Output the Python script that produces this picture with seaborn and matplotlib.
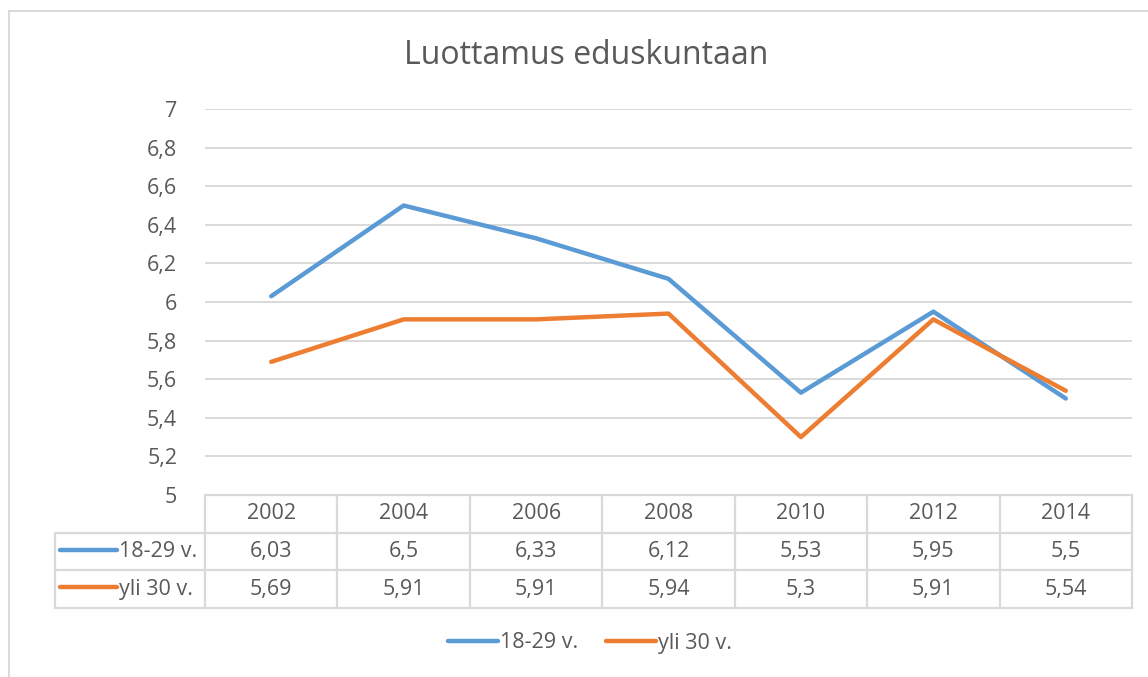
import matplotlib
matplotlib.use("Agg")
import matplotlib.pyplot as plt
import seaborn as sns
import pandas as pd
from matplotlib.lines import Line2D

years = ["2002", "2004", "2006", "2008", "2010", "2012", "2014"]
series_names = ["18-29 v.", "yli 30 v."]
young = [6.03, 6.5, 6.33, 6.12, 5.53, 5.95, 5.5]
older = [5.69, 5.91, 5.91, 5.94, 5.3, 5.91, 5.54]
yticks = [5, 5.2, 5.4, 5.6, 5.8, 6, 6.2, 6.4, 6.6, 6.8, 7]
title = "Luottamus eduskuntaan"

colors = ["#5B9BD5", "#ED7D31"]
grid_c = "#D9D9D9"
text_c = "#595959"
fs = 15.5

sns.set_theme(style="white")
plt.rcParams["font.family"] = ["Open Sans", "DejaVu Sans"]

W, H = 1148, 677
fig = plt.figure(figsize=(W / 100, H / 100), dpi=100)

def fx(px):
    return px / W

def fy(py):
    return 1 - py / H

# plot area
left, right, top, bottom = 205, 1132, 109, 495
ax = fig.add_axes([fx(left), fy(bottom), fx(right - left), fy(top) - fy(bottom)])

df = pd.DataFrame({
    "x": list(range(len(years))) * 2,
    "value": young + older,
    "series": [series_names[0]] * len(years) + [series_names[1]] * len(years),
})
sns.lineplot(data=df, x="x", y="value", hue="series", palette=colors,
             linewidth=3.2, ax=ax, legend=False, solid_capstyle="round")

ax.set_xlim(-0.5, len(years) - 0.5)
ax.set_ylim(5, 7)
ax.set_yticks(yticks)
ax.set_yticklabels([("%g" % v).replace(".", ",") for v in yticks], color=text_c, fontsize=fs)
ax.set_xticks([])
ax.set_xlabel("")
ax.set_ylabel("")
ax.tick_params(axis="y", length=0, pad=20)
for s in ax.spines.values():
    s.set_visible(False)
ax.yaxis.grid(True, color=grid_c, linewidth=1.4)
ax.set_axisbelow(True)

# data table
tleft = 55
tbottom = 608
tax = fig.add_axes([fx(tleft), fy(tbottom), fx(right - tleft), fy(bottom) - fy(tbottom)])
colw = (right - left) / len(years)
x0 = -0.5 - (left - tleft) / colw
tax.set_xlim(x0, len(years) - 0.5)
tax.set_ylim(3, 0)
tax.axis("off")
lw = 1.6
tax.plot([-0.5, len(years) - 0.5], [0, 0], color=grid_c, lw=lw, clip_on=False)
for r in [1, 2, 3]:
    tax.plot([x0, len(years) - 0.5], [r, r], color=grid_c, lw=lw, clip_on=False)
tax.plot([x0, x0], [1, 3], color=grid_c, lw=lw, clip_on=False)
for i in range(len(years) + 1):
    tax.plot([i - 0.5, i - 0.5], [0, 3], color=grid_c, lw=lw, clip_on=False)
for i, yr in enumerate(years):
    tax.text(i, 0.5, yr, ha="center", va="center", fontsize=fs, color=text_c)
for r, (vals, name, c) in enumerate(zip([young, older], series_names, colors)):
    for i, v in enumerate(vals):
        tax.text(i, r + 1.5, ("%g" % v).replace(".", ","), ha="center", va="center",
                 fontsize=fs, color=text_c)
    tax.plot([x0 + 0.04, x0 + 0.47], [r + 1.45, r + 1.45], color=c, lw=3.2,
             solid_capstyle="round", clip_on=False)
    tax.text(x0 + 0.48, r + 1.5, name, ha="left", va="center", fontsize=fs, color=text_c)

# title
fig.text(fx(586), fy(55), title, ha="center", va="center", fontsize=23, color=text_c)

# legend
handles = [Line2D([0], [0], color=c, lw=3.2, solid_capstyle="round") for c in colors]
fig.legend(handles, series_names, loc="center", bbox_to_anchor=(fx(590), fy(643)),
           ncol=2, frameon=False, fontsize=fs, handlelength=2.3, handletextpad=0.1,
           columnspacing=1.3, labelcolor=text_c)

# chart frame (left and top edges visible)
fig.add_artist(Line2D([fx(8.5), fx(8.5)], [0, fy(10.5)], color=grid_c, lw=1.4))
fig.add_artist(Line2D([fx(8.5), 1], [fy(10.5), fy(10.5)], color=grid_c, lw=1.4))

fig.savefig("out.png", dpi=100, facecolor="white")
